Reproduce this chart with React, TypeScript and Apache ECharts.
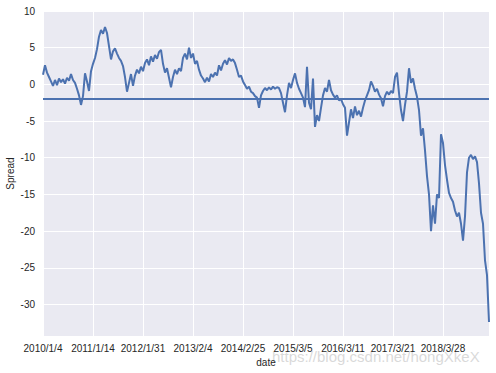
import React, { useEffect, useRef } from 'react';
import * as echarts from 'echarts';

const xTickLabels = [
  '2010/1/4', '2011/1/14', '2012/1/31', '2013/2/4', '2014/2/25',
  '2015/3/5', '2016/3/11', '2017/3/21', '2018/3/28',
];

const spread = [
  1.3, 2.6, 1.6, 1.0, 0.4, -0.2, 0.6, -0.1, 0.8, 0.3,
  0.7, 0.1, 0.9, 0.5, 1.4, 0.6, 0.2, -0.6, -1.5, -2.8,
  -1.6, 1.5, 0.4, -0.9, 1.8, 2.8, 3.6, 4.8, 6.5, 7.4,
  6.9, 7.8, 7.0, 5.2, 3.4, 4.5, 4.9, 4.2, 3.6, 3.2,
  2.5, 1.0, -1.0, 0.2, 1.4, -0.2, 1.2, 2.0, 1.5, 2.4,
  1.8, 2.9, 3.4, 2.6, 3.8, 3.1, 4.0, 3.5, 4.4, 4.7,
  2.8, 1.6, 2.2, 0.9, -0.4, 1.0, 2.0, 1.4, 2.2, 1.8,
  3.6, 4.2, 3.4, 5.0, 3.6, 4.2, 2.8, 3.2, 2.0,
  1.2, 0.8, 0.3, 0.9, 0.4, 1.4, 1.0, 1.6, 1.2, 2.6,
  1.9, 2.8, 3.3, 2.7, 3.6, 3.2, 3.4, 2.9, 2.0, 1.0,
  1.2, 0.4, -0.1, -0.6, -0.3, -1.0, -1.2, -1.6, -1.8, -3.2,
  -1.5, -0.9, -0.5, -0.8, -0.4, -0.7, -0.3, -0.6, -0.4,
  -0.5, -1.2, -2.5, -3.8, -1.5, 0.2, -0.5, 0.6, 1.5, 0.2,
  -0.6, -1.2, -1.8, -3.1, 2.4, -2.5, -3.4, 0.8, -5.8, -4.2,
  -5.0, -3.2, -1.5, -0.5, -1.0, 0.6, -0.8, -1.4, -1.8, -1.5,
  -2.2, -2.0, -2.7, -3.2, -7.0, -5.2, -3.4, -4.6, -3.0,
  -4.2, -3.6, -4.4, -3.2, -2.2, -1.5, -0.8, 0.4, -0.2, -1.0,
  -0.6, -1.4, -1.9, -3.0, -1.6, -1.0, -1.4, -0.9, -1.2, 1.0,
  1.6, -1.2, -3.5, -5.0, -2.8, -1.0, 2.2, 0.2, 0.8, -0.6,
  -1.7, -3.5, -7.0, -6.0, -9.0, -12.5, -15.0, -20.0, -16.5, -19.0,
  -15.0, -15.5, -6.8, -8.0, -11.0, -13.0, -14.8, -15.5, -16.0, -17.2,
  -18.0, -17.5, -19.0, -21.3, -18.0, -12.0, -10.0, -9.6, -10.2, -9.8,
  -10.6, -13.5, -17.5, -19.0, -24.0, -26.0, -32.4,
];

const meanLevel = -2;
const watermark = 'https://blog.csdn.net/hongXkeX';

export default function App() {
  const ref = useRef<HTMLDivElement>(null);
  useEffect(() => {
    const chart = echarts.init(ref.current!, null, { renderer: 'svg' });
    const font = 'Liberation Sans, Arial, sans-serif';
    const step = 25;
    chart.setOption({
      animation: false,
      backgroundColor: '#ffffff',
      grid: {
        left: 43, right: 7, top: 11, bottom: 37,
        containLabel: false,
        outerBoundsMode: 'none',
        show: true, backgroundColor: '#EAEAF2', borderWidth: 0,
      },
      xAxis: {
        type: 'value',
        min: 0,
        max: spread.length - 1,
        interval: step,
        axisLine: { show: false },
        axisTick: { show: false },
        splitLine: { show: true, lineStyle: { color: '#ffffff', width: 1 } },
        axisLabel: {
          margin: 7,
          fontSize: 10,
          fontFamily: font,
          color: '#262626',
          showMaxLabel: false,
          formatter: (v: number) => (v % step === 0 ? xTickLabels[v / step] ?? '' : ''),
        },
        name: 'date',
        nameLocation: 'middle',
        nameGap: 21,
        nameMoveOverlap: false,
        nameTextStyle: { fontSize: 10, fontFamily: font, color: '#262626' },
      },
      yAxis: {
        type: 'value',
        min: -34.3,
        max: 10,
        splitNumber: 9,
        axisLine: { show: false },
        axisTick: { show: false },
        splitLine: { show: true, lineStyle: { color: '#ffffff', width: 1 } },
        axisLabel: {
          margin: 8,
          fontSize: 10,
          fontFamily: font,
          color: '#262626',
          formatter: (v: number) => (Math.abs(v % 5) < 1e-9 ? String(v) : ''),
        },
        name: 'Spread',
        nameLocation: 'middle',
        nameGap: 28,
        nameMoveOverlap: false,
        nameTextStyle: { fontSize: 10, fontFamily: font, color: '#262626' },
      },
      series: [
        {
          type: 'line',
          data: spread.map((v, i) => [i, v]),
          showSymbol: false,
          lineStyle: { color: '#4C72B0', width: 2 },
          markLine: {
            silent: true,
            symbol: 'none',
            label: { show: false },
            lineStyle: { color: '#4C72B0', width: 2, type: 'solid' },
            data: [{ yAxis: meanLevel }],
          },
        },
      ],
      graphic: [
        {
          type: 'text',
          left: 272,
          top: 349,
          style: {
            text: watermark,
            fontSize: 15,
            fontFamily: font,
            fill: 'rgba(180,180,180,0.5)',
          },
        },
      ],
    });
    return () => chart.dispose();
  }, []);
  return <div ref={ref} style={{ position: 'absolute', left: 0, top: 0, width: 496, height: 373 }} />;
}
